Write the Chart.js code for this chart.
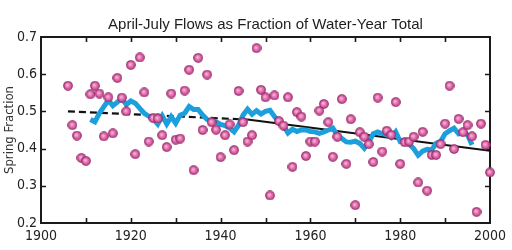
<!DOCTYPE html>
<html>
<head>
<meta charset="utf-8">
<script src="https://cdn.jsdelivr.net/npm/chart.js@4.4.1/dist/chart.umd.min.js"></script>
<style>
    html, body { margin: 0; padding: 0; background: #fff; }
    #wrap { width: 512px; height: 250px; }
</style>
</head>
<body>
<div id="wrap"><canvas id="flowChart" width="512" height="250"></canvas></div>
<script>
// April-July flow as fraction of water-year total

const years = [
    1906, 1907, 1908, 1909, 1910, 1911, 1912, 1913, 1914, 1915,
    1916, 1917, 1918, 1919, 1920, 1921, 1922, 1923, 1924, 1925,
    1926, 1927, 1928, 1929, 1930, 1931, 1932, 1933, 1934, 1935,
    1936, 1937, 1938, 1939, 1940, 1941, 1942, 1943, 1944, 1945,
    1946, 1947, 1948, 1949, 1950, 1951, 1952, 1953, 1954, 1955,
    1956, 1957, 1958, 1959, 1960, 1961, 1962, 1963, 1964, 1965,
    1966, 1967, 1968, 1969, 1970, 1971, 1972, 1973, 1974, 1975,
    1976, 1977, 1978, 1979, 1980, 1981, 1982, 1983, 1984, 1985,
    1986, 1987, 1988, 1989, 1990, 1991, 1992, 1993, 1994, 1995,
    1996, 1997, 1998, 1999, 2000
];
const springFraction = [
    0.569, 0.463, 0.435, 0.375, 0.367, 0.546, 0.569, 0.548, 0.433, 0.538,
    0.441, 0.590, 0.537, 0.500, 0.625, 0.385, 0.645, 0.551, 0.419, 0.482,
    0.481, 0.436, 0.404, 0.548, 0.424, 0.427, 0.556, 0.612, 0.342, 0.644,
    0.450, 0.599, 0.471, 0.451, 0.377, 0.436, 0.465, 0.396, 0.555, 0.471,
    0.419, 0.436, 0.670, 0.558, 0.538, 0.274, 0.543, 0.474, 0.462, 0.538,
    0.351, 0.498, 0.486, 0.380, 0.419, 0.419, 0.502, 0.520, 0.471, 0.378,
    0.432, 0.533, 0.359, 0.479, 0.248, 0.444, 0.432, 0.412, 0.364, 0.537,
    0.392, 0.448, 0.437, 0.525, 0.359, 0.417, 0.419, 0.432, 0.309, 0.445,
    0.287, 0.383, 0.383, 0.412, 0.467, 0.569, 0.399, 0.480, 0.444, 0.463,
    0.433, 0.230, 0.467, 0.410, 0.336
];

const meanYears = [
    1911, 1912, 1913, 1914, 1915, 1916, 1917, 1918, 1919, 1920,
    1921, 1922, 1923, 1924, 1925, 1926, 1927, 1928, 1929, 1930,
    1931, 1932, 1933, 1934, 1935, 1936, 1937, 1938, 1939, 1940,
    1941, 1942, 1943, 1944, 1945, 1946, 1947, 1948, 1949, 1950,
    1951, 1952, 1953, 1954, 1955, 1956, 1957, 1958, 1959, 1960,
    1961, 1962, 1963, 1964, 1965, 1966, 1967, 1968, 1969, 1970,
    1971, 1972, 1973, 1974, 1975, 1976, 1977, 1978, 1979, 1980,
    1981, 1982, 1983, 1984, 1985, 1986, 1987, 1988, 1989, 1990,
    1991, 1992, 1993, 1994, 1995, 1996
];
const runningMean = [
    0.478, 0.472, 0.495, 0.513, 0.530, 0.515, 0.525, 0.535, 0.518, 0.528,
    0.522, 0.508, 0.495, 0.487, 0.480, 0.466, 0.488, 0.466, 0.486, 0.468,
    0.490, 0.495, 0.513, 0.505, 0.505, 0.490, 0.478, 0.471, 0.472, 0.465,
    0.462, 0.455, 0.445, 0.463, 0.490, 0.506, 0.492, 0.502, 0.493, 0.500,
    0.503, 0.486, 0.471, 0.462, 0.442, 0.452, 0.446, 0.450, 0.450, 0.446,
    0.445, 0.441, 0.445, 0.450, 0.455, 0.436, 0.427, 0.418, 0.417, 0.420,
    0.414, 0.401, 0.418, 0.440, 0.445, 0.440, 0.437, 0.430, 0.445, 0.419,
    0.420, 0.412, 0.400, 0.382, 0.393, 0.398, 0.396, 0.414, 0.419, 0.440,
    0.448, 0.455, 0.440, 0.445, 0.437, 0.410
];

const trendDashYears = [1906, 1946];
const trendDashValues = [0.500, 0.478];
const trendSolidYears = [1946, 2000];
const trendSolidValues = [0.478, 0.394];

const xLabelTicks = [1900, 1920, 1940, 1960, 1980, 2000];
const xMarkTicks = [1910, 1920, 1930, 1940, 1950, 1960, 1970, 1980, 1990];
const yTicks = [0.2, 0.3, 0.4, 0.5, 0.6, 0.7];

const pairs = (xs, ys) => xs.map((x, i) => ({ x: x, y: ys[i] }));

// shaded pink marker
function makeDot() {
    const c = document.createElement('canvas');
    c.width = 10;
    c.height = 10;
    const g = c.getContext('2d');
    const grad = g.createRadialGradient(4.3, 4.3, 0.5, 5, 5, 5);
    grad.addColorStop(0, '#f6b6d9');
    grad.addColorStop(0.45, '#e06aac');
    grad.addColorStop(1, '#c0488a');
    g.beginPath();
    g.arc(5, 5, 4.3, 0, Math.PI * 2);
    g.fillStyle = grad;
    g.fill();
    g.lineWidth = 1.1;
    g.strokeStyle = '#952a68';
    g.stroke();
    return c;
}

const narrow = "'Liberation Sans Narrow', 'DejaVu Sans Condensed', 'Liberation Sans', sans-serif";
const regular = "'Liberation Sans', Arial, sans-serif";

const framePlugin = {
    id: 'frame',
    beforeDatasetsDraw(chart) {
        const { ctx, chartArea: a, scales } = chart;
        ctx.save();
        ctx.strokeStyle = '#1a1a1a';
        ctx.lineWidth = 2;
        ctx.strokeRect(a.left, a.top, a.right - a.left, a.bottom - a.top);
        ctx.lineWidth = 1.6;
        ctx.beginPath();
        xMarkTicks.forEach(v => {
            const px = Math.round(scales.x.getPixelForValue(v)) + 0.5;
            ctx.moveTo(px, a.bottom); ctx.lineTo(px, a.bottom - 5);
            ctx.moveTo(px, a.top); ctx.lineTo(px, a.top + 5);
        });
        yTicks.slice(1, -1).forEach(v => {
            const py = Math.round(scales.y.getPixelForValue(v)) + 0.5;
            ctx.moveTo(a.left, py); ctx.lineTo(a.left + 5, py);
            ctx.moveTo(a.right, py); ctx.lineTo(a.right - 5, py);
        });
        ctx.stroke();

        // title and y-axis caption
        ctx.fillStyle = '#1e1e1e';
        ctx.font = '15px ' + regular;
        ctx.textAlign = 'center';
        ctx.textBaseline = 'middle';
        ctx.fillText('April-July Flows as Fraction of Water-Year Total', (a.left + a.right) / 2, 25);

        ctx.save();
        ctx.translate(10, (a.top + a.bottom) / 2);
        ctx.rotate(-Math.PI / 2);
        ctx.fillStyle = '#333';
        ctx.font = '13px ' + narrow;
        ctx.fillText('Spring Fraction', 0, 0);
        ctx.restore();
        ctx.restore();
    }
};

new Chart(document.getElementById('flowChart').getContext('2d'), {
    type: 'line',
    data: {
        datasets: [{
            label: 'Annual fraction',
            data: pairs(years, springFraction),
            showLine: false,
            pointStyle: makeDot(),
            pointRadius: 4,
            clip: false
        }, {
            label: 'Running mean',
            data: pairs(meanYears, runningMean),
            borderColor: '#1c9fdd',
            borderWidth: 5,
            pointRadius: 0,
            tension: 0,
            borderJoinStyle: 'miter'
        }, {
            label: 'Trend (early)',
            data: pairs(trendDashYears, trendDashValues),
            borderColor: '#111',
            borderWidth: 2.2,
            borderDash: [7, 4],
            pointRadius: 0
        }, {
            label: 'Trend',
            data: pairs(trendSolidYears, trendSolidValues),
            borderColor: '#111',
            borderWidth: 2,
            pointRadius: 0
        }]
    },
    options: {
        responsive: false,
        animation: false,
        layout: { padding: { top: 37, right: 22, left: 0, bottom: 0 } },
        plugins: {
            legend: { display: false },
            title: { display: false },
            tooltip: { enabled: false }
        },
        scales: {
            x: {
                type: 'linear',
                min: 1900,
                max: 2000,
                afterFit: s => { s.height = 27; },
                afterBuildTicks: s => { s.ticks = xLabelTicks.map(v => ({ value: v })); },
                grid: { display: false, drawTicks: false },
                border: { display: false },
                ticks: {
                    padding: 5,
                    color: '#222',
                    font: { family: narrow, size: 14 },
                    maxRotation: 0,
                    callback: v => String(v)
                }
            },
            y: {
                min: 0.2,
                max: 0.7,
                afterFit: s => { s.width = 41; },
                afterBuildTicks: s => { s.ticks = yTicks.map(v => ({ value: v })); },
                grid: { display: false, drawTicks: false },
                border: { display: false },
                ticks: {
                    padding: 4,
                    color: '#222',
                    font: { family: narrow, size: 14 },
                    callback: v => v.toFixed(1)
                }
            }
        }
    },
    plugins: [framePlugin]
});
</script>
</body>
</html>
